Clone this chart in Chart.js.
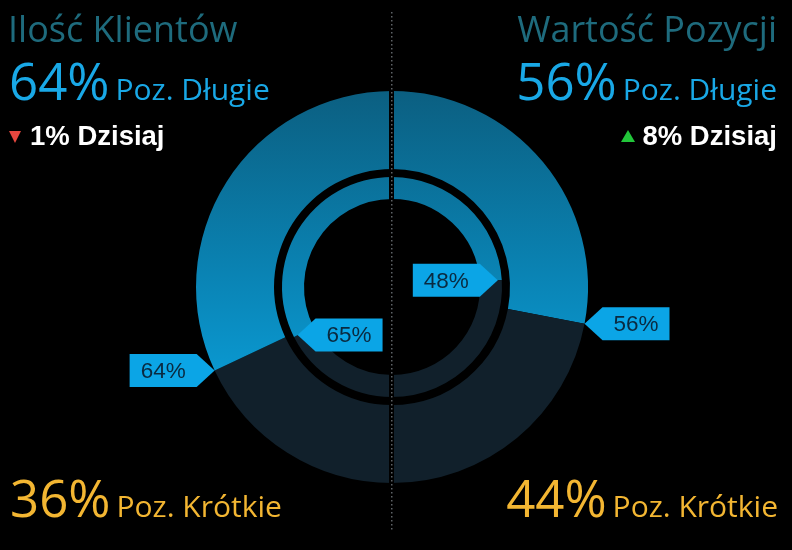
<!DOCTYPE html>
<html>
<head>
<meta charset="utf-8">
<script src="https://cdn.jsdelivr.net/npm/chart.js@4.4.1/dist/chart.umd.min.js"></script>
<style>
  html, body { margin: 0; padding: 0; background: #000; }
  #wrap { position: relative; width: 792px; height: 550px; overflow: hidden; background: #000; }
  #c { position: absolute; left: 0; top: 0; }
  .t { position: absolute; white-space: nowrap; line-height: 1; font-family: "Open Sans", sans-serif; }
  .row { position: absolute; white-space: nowrap; line-height: 1; display: flex; align-items: baseline; font-family: "Open Sans", sans-serif; }
  .big { font-size: 51px; }
  .mid { font-size: 30px; margin-left: 6px; }
  .title { font-size: 36px; color: #1e6b7d; }
  .long { color: #19a8e6; }
  .short { color: #f3b632; }
  .chg { position: absolute; white-space: nowrap; line-height: 1; font-family: "Liberation Sans", Arial, sans-serif; font-weight: bold; font-size: 27.5px; color: #fff; }
  .tri { position: absolute; width: 0; height: 0; }
</style>
</head>
<body>
<div id="wrap">
  <canvas id="c" width="792" height="550"></canvas>
  <div id="tL" class="t title" style="left:8px; top:11px;"></div>
  <div id="tR" class="t title" style="right:15px; top:11px;"></div>
  <div id="longL" class="row long" style="left:9px; top:55px;"><span class="big" id="longLv"></span><span class="mid" id="longLt"></span></div>
  <div id="longR" class="row long" style="right:15px; top:55px;"><span class="big" id="longRv"></span><span class="mid" id="longRt"></span></div>
  <div class="tri" id="triL" style="left:9px; top:131px; border-left:6.5px solid transparent; border-right:6.5px solid transparent; border-top:12px solid #e8473f;"></div>
  <div id="chgL" class="chg" style="left:30px; top:122px;"></div>
  <div class="tri" id="triR" style="left:621px; top:130px; border-left:7px solid transparent; border-right:7px solid transparent; border-bottom:12px solid #22c63a;"></div>
  <div id="chgR" class="chg" style="right:15px; top:122px;"></div>
  <div id="shortL" class="row short" style="left:10px; top:472px;"><span class="big" id="shortLv"></span><span class="mid" id="shortLt"></span></div>
  <div id="shortR" class="row short" style="right:14px; top:472px;"><span class="big" id="shortRv"></span><span class="mid" id="shortRt"></span></div>
</div>
<script>
// ---------- data ----------
const panelTitles = ['Ilość Klientów', 'Wartość Pozycji'];          // left, right
const seriesNames = ['Poz. Długie', 'Poz. Krótkie'];
// Doughnut segments clockwise from 12 o'clock:
// right half (Wartość Pozycji): long, short; left half (Ilość Klientów): short, long
const segmentLabels = ['Poz. Długie', 'Poz. Krótkie', 'Poz. Krótkie', 'Poz. Długie'];
const outerValues = [56, 44, 36, 64];   // outer ring
const innerValues = [48, 52, 35, 65];   // inner ring
const headlineLong = [64, 56];          // left, right
const headlineShort = [36, 44];         // left, right
const dailyChange = [-1, 8];            // left, right

// ---------- texts ----------
document.getElementById('tL').textContent = panelTitles[0];
document.getElementById('tR').textContent = panelTitles[1];
document.getElementById('longLv').textContent = headlineLong[0] + '%';
document.getElementById('longLt').textContent = seriesNames[0];
document.getElementById('longRv').textContent = headlineLong[1] + '%';
document.getElementById('longRt').textContent = seriesNames[0];
document.getElementById('shortLv').textContent = headlineShort[0] + '%';
document.getElementById('shortLt').textContent = seriesNames[1];
document.getElementById('shortRv').textContent = headlineShort[1] + '%';
document.getElementById('shortRt').textContent = seriesNames[1];
document.getElementById('chgL').textContent = Math.abs(dailyChange[0]) + '% Dzisiaj';
document.getElementById('chgR').textContent = Math.abs(dailyChange[1]) + '% Dzisiaj';

// ---------- colours ----------
const SHORT_COLOR = '#11202b';
function longGradient(chart) {
  const a = chart.chartArea;
  if (!a) return '#0a86b6';
  const g = chart.ctx.createLinearGradient(0, a.top, 0, a.bottom);
  g.addColorStop(0, '#0b5f81');
  g.addColorStop(0.45, '#0a82b2');
  g.addColorStop(0.75, '#0a9ad3');
  g.addColorStop(1, '#0aa4df');
  return g;
}
function segColor(ctx) {
  const lbl = segmentLabels[ctx.dataIndex];
  return lbl === seriesNames[0] ? longGradient(ctx.chart) : SHORT_COLOR;
}

// ---------- plugins ----------
const dividerPlugin = {
  id: 'divider',
  afterDatasetsDraw(chart) {
    const meta = chart.getDatasetMeta(0);
    const cx = meta.data[0].x;
    const ctx = chart.ctx;
    ctx.save();
    ctx.fillStyle = '#000';
    ctx.fillRect(Math.round(cx) - 3, 10, 5, 522);
    ctx.fillStyle = '#5e6367';
    for (let y = 12; y < 532; y += 4) {
      ctx.fillRect(Math.round(cx) - 1, y, 1.5, 1.5);
    }
    ctx.restore();
  }
};

function drawTag(ctx, tipX, tipY, dir, text) {
  const arrow = 18, w = 67, h = 33;
  const base = tipX + dir * arrow;
  const far = base + dir * w;
  ctx.beginPath();
  ctx.moveTo(tipX, tipY);
  ctx.lineTo(base, tipY - h / 2);
  ctx.lineTo(far, tipY - h / 2);
  ctx.lineTo(far, tipY + h / 2);
  ctx.lineTo(base, tipY + h / 2);
  ctx.closePath();
  ctx.fillStyle = '#0ba5e6';
  ctx.fill();
  ctx.fillStyle = '#0a2a40';
  ctx.font = '22.5px "Liberation Sans", Arial, sans-serif';
  ctx.textAlign = 'center';
  ctx.textBaseline = 'middle';
  ctx.fillText(text, (base + far) / 2, tipY + 1);
}

const tagPlugin = {
  id: 'tags',
  afterDatasetsDraw(chart) {
    const ctx = chart.ctx;
    ctx.save();
    [[0, false], [2, true]].forEach(([di, inner]) => {
      const meta = chart.getDatasetMeta(di);
      const values = chart.data.datasets[di].data;
      meta.data.forEach((arc, i) => {
        if (segmentLabels[i] !== seriesNames[0]) return;
        const p = arc.getProps(['x', 'y', 'startAngle', 'endAngle', 'outerRadius'], true);
        // boundary between long and short segment
        const ang = (i === 0) ? p.endAngle : p.startAngle;
        const r = inner ? p.outerRadius - 4 : p.outerRadius;
        const tx = p.x + r * Math.cos(ang);
        const ty = p.y + r * Math.sin(ang);
        const side = Math.cos(ang) >= 0 ? 1 : -1;
        const dir = inner ? -side : side;
        drawTag(ctx, tx, ty, dir, values[i] + '%');
      });
    });
    ctx.restore();
  }
};

// ---------- chart ----------
new Chart(document.getElementById('c'), {
  type: 'doughnut',
  data: {
    labels: segmentLabels,
    datasets: [
      { data: outerValues, backgroundColor: segColor, borderWidth: 0, weight: 78 },
      { data: [1], backgroundColor: 'rgba(0,0,0,0)', borderWidth: 0, weight: 8 },
      { data: innerValues, backgroundColor: segColor, borderWidth: 0, weight: 22 }
    ]
  },
  options: {
    responsive: false,
    animation: false,
    cutout: 88,
    rotation: 0,
    circumference: 360,
    layout: { padding: { left: 196, right: 204, top: 91, bottom: 67 } },
    plugins: { legend: { display: false }, tooltip: { enabled: false } },
    events: []
  },
  plugins: [dividerPlugin, tagPlugin]
});
</script>
</body>
</html>
